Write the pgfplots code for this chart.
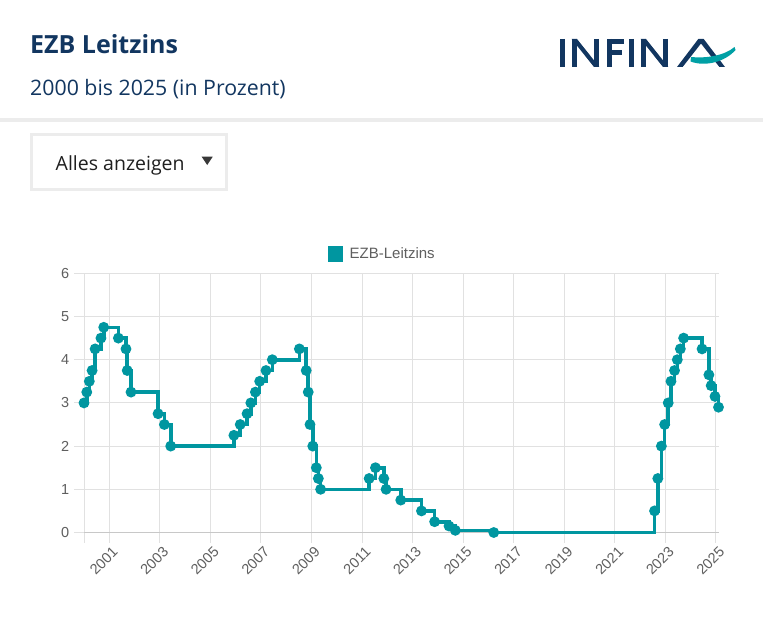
\documentclass[border=0pt]{standalone}
\usepackage{fontspec}
\setmainfont{Liberation Sans}
\newfontfamily\osans{Open Sans}
\usepackage{pgfplots}
\pgfplotsset{compat=1.18}
\definecolor{navy}{RGB}{18,54,96}
\definecolor{teal1}{RGB}{0,150,160}
\definecolor{swoosh}{RGB}{0,160,165}
\definecolor{gridc}{RGB}{225,225,225}
\definecolor{zeroc}{RGB}{200,200,200}
\definecolor{lab}{RGB}{95,95,95}
\definecolor{sepc}{RGB}{236,236,236}
\begin{document}
\begin{tikzpicture}[x=1pt,y=1pt]
\path[use as bounding box, fill=white] (0,0) rectangle (763,-626);
% title
\node[anchor=base west, inner sep=0pt, text=navy, font=\osans\bfseries\fontsize{25}{25}\selectfont] at (30,-53.3) {EZB Leitzins};
\node[anchor=base west, inner sep=0pt, text=navy, font=\osans\fontsize{21.3}{21.3}\selectfont] at (30,-95.7) {2000 bis 2025 (in Prozent)};
% logo
\begin{scope}[navy, line width=5pt]
\draw (562.5,-39) -- (562.5,-67);
\draw (574.2,-39) -- (574.2,-67);
\draw (596.8,-39) -- (596.8,-67);
\fill (571.7,-39) -- (577,-39) -- (599.3,-67) -- (594,-67) -- cycle;
\draw (609.2,-39) -- (609.2,-67);
\fill (606.7,-39) rectangle (624,-43.8);
\fill (606.7,-50.5) rectangle (621.5,-55.2);
\draw (631.7,-39) -- (631.7,-67);
\draw (643.2,-39) -- (643.2,-67);
\draw (665.8,-39) -- (665.8,-67);
\fill (640.7,-39) -- (646,-39) -- (668.3,-67) -- (663,-67) -- cycle;
\fill (677,-67) -- (698.3,-39) -- (703.7,-39) -- (725,-67) -- (719.4,-67) -- (701,-43.5) -- (682.6,-67) -- cycle;
\end{scope}
\fill[swoosh] (690.5,-61.5) .. controls (705,-67) and (725,-62) .. (735.5,-50) -- (734.5,-47) .. controls (724,-56) and (705,-58.5) .. (691,-57) -- cycle;
% separator
\fill[sepc] (0,-118) rectangle (763,-121.7);
% dropdown
\draw[sepc, line width=3pt] (31.5,-134.5) rectangle (226.5,-189.2);
\node[anchor=base west, inner sep=0pt, text=black!88, font=\osans\fontsize{19.5}{19.5}\selectfont] at (55.5,-170) {Alles anzeigen};
\fill[black!78] (201.7,-156.7) -- (212.7,-156.7) -- (207.2,-165) -- cycle;
% legend
\fill[teal1] (327.7,-246) rectangle (343.3,-261.7);
\node[anchor=base west, inner sep=0pt, text=lab, font=\fontsize{15}{15}\selectfont] at (349.5,-258.5) {EZB-Leitzins};
\begin{axis}[
  at={(84pt,-532.5pt)}, anchor=south west,
  scale only axis, width=634.5pt, height=259.2pt,
  xmin=2000, xmax=2025.1, ymin=0, ymax=6,
  xtick={2001,2003,...,2025}, ytick={0,1,...,6},
  extra x ticks={2000}, extra x tick labels={},
  /pgf/number format/1000 sep={},
  /pgf/number format/assume math mode=true,
  grid=major, major grid style={gridc, line width=1pt},
  axis line style={draw=none},
  tick align=outside, major tick length=10pt,
  tick style={gridc, line width=1pt},
  xtick pos=bottom, ytick pos=left,
  ticklabel style={font=\fontsize{14.5}{14.5}\selectfont, text=lab},
  yticklabel style={inner sep=0pt, anchor=east, xshift=-4.5pt},
  xticklabel style={inner sep=0pt, xshift=6pt, yshift=-7pt, rotate=45, anchor=east},
  clip=false,
]
\draw[zeroc, line width=1pt] (axis cs:2000,0) -- (axis cs:2025.1,0);
\addplot[const plot, teal1, line width=3.6pt, mark=*, mark size=3.5pt, mark options={draw=none, fill=teal1}] coordinates {
(2000.00,3.00) (2000.11,3.25) (2000.21,3.50) (2000.32,3.75) (2000.44,4.25)
(2000.67,4.50) (2000.78,4.75) (2001.36,4.50) (2001.66,4.25) (2001.71,3.75)
(2001.86,3.25) (2002.93,2.75) (2003.18,2.50) (2003.43,2.00) (2005.93,2.25)
(2006.18,2.50) (2006.45,2.75) (2006.60,3.00) (2006.78,3.25) (2006.95,3.50)
(2007.20,3.75) (2007.45,4.00) (2008.52,4.25) (2008.79,3.75) (2008.87,3.25)
(2008.94,2.50) (2009.05,2.00) (2009.19,1.50) (2009.27,1.25) (2009.36,1.00)
(2011.28,1.25) (2011.53,1.50) (2011.86,1.25) (2011.95,1.00) (2012.53,0.75)
(2013.35,0.50) (2013.87,0.25) (2014.44,0.15) (2014.69,0.05) (2016.21,0.00)
(2022.57,0.50) (2022.70,1.25) (2022.84,2.00) (2022.97,2.50) (2023.11,3.00)
(2023.22,3.50) (2023.36,3.75) (2023.47,4.00) (2023.59,4.25) (2023.72,4.50)
(2024.45,4.25) (2024.72,3.65) (2024.81,3.40) (2024.96,3.15) (2025.10,2.90)
};
\end{axis}
\end{tikzpicture}
\end{document}
